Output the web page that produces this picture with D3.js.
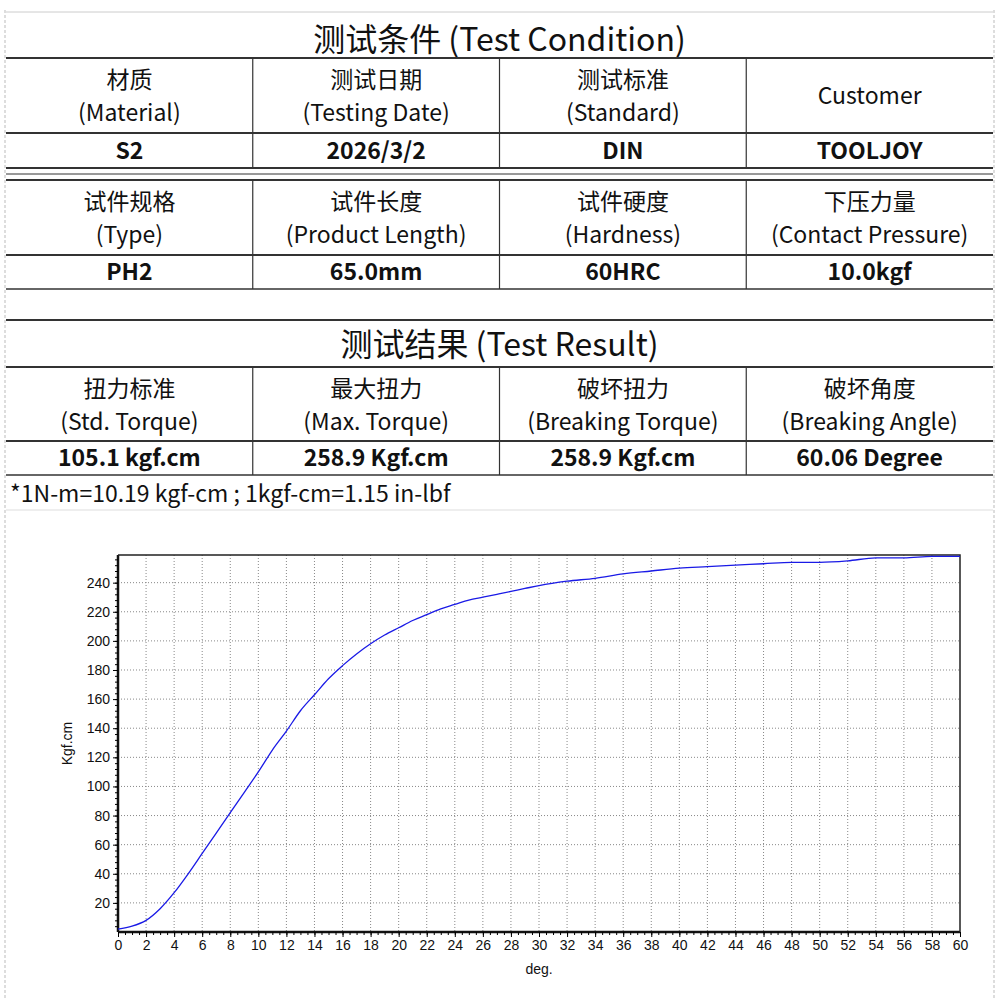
<!DOCTYPE html>
<html lang="zh">
<head>
<meta charset="UTF-8">
<style>
  body { margin: 0; background: #fff; font-family: "Noto Sans CJK SC", "Open Sans", sans-serif; }
  svg text { fill: #111; }
</style>
<script src="https://d3js.org/d3.v7.min.js"></script>
</head>
<body>
<svg id="page" width="1000" height="1000"></svg>
<script>
const conditionHeaders = [["材质", "(Material)"], ["测试日期", "(Testing Date)"], ["测试标准", "(Standard)"], ["Customer"]];
const conditionValues = ["S2", "2026/3/2", "DIN", "TOOLJOY"];
const specHeaders = [["试件规格", "(Type)"], ["试件长度", "(Product Length)"], ["试件硬度", "(Hardness)"], ["下压力量", "(Contact Pressure)"]];
const specValues = ["PH2", "65.0mm", "60HRC", "10.0kgf"];
const resultHeaders = [["扭力标准", "(Std. Torque)"], ["最大扭力", "(Max. Torque)"], ["破坏扭力", "(Breaking Torque)"], ["破坏角度", "(Breaking Angle)"]];
const resultValues = ["105.1 kgf.cm", "258.9 Kgf.cm", "258.9 Kgf.cm", "60.06 Degree"];
const note = "*1N-m=10.19 kgf-cm ; 1kgf-cm=1.15 in-lbf";

const degrees = [0,1,2,3,4,5,6,7,8,9,10,11,12,13,14,15,16,17,18,19,20,21,22,23,24,25,26,27,28,29,30,32,34,36,38,40,42,44,46,48,50,52,54,56,58,60];
const torque = [2,4,8,16,27,40,54,68,82,96,110,125,138,152,163,174,183,191,198,204,209,214,218,222,225,228,230,232,234,236,238,241,243,246,248,250,251,252,253,254,254,255,257,257,258,258];

const svg = d3.select("#page");
const L = 6, R = 993;
const cols = d3.range(5).map(i => L + i * (R - L) / 4);

// outer dashed left/right borders
svg.append("line").attr("x1", 5).attr("x2", 5).attr("y1", 10).attr("y2", 1000).attr("stroke", "#bbb").attr("stroke-dasharray", "3,2");
svg.append("line").attr("x1", 994).attr("x2", 994).attr("y1", 10).attr("y2", 1000).attr("stroke", "#bbb").attr("stroke-dasharray", "3,2");
svg.append("line").attr("x1", L).attr("x2", R).attr("y1", 12).attr("y2", 12).attr("stroke", "#ccc");

function hline(y, w) {
  svg.append("line").attr("x1", L).attr("x2", R).attr("y1", y).attr("y2", y).attr("stroke", "#333").attr("stroke-width", w || 1.5);
}
function vlines(y0, y1) {
  cols.slice(1, 4).forEach(x => svg.append("line").attr("x1", x).attr("x2", x).attr("y1", y0).attr("y2", y1).attr("stroke", "#333").attr("stroke-width", 1.2));
}
function title(txt, y0, y1) {
  svg.append("text").attr("x", (L + R) / 2).attr("y", (y0 + y1) / 2 + 12).attr("text-anchor", "middle")
    .attr("font-size", 32).text(txt);
}
function headerRow(headers, y0, y1) {
  headers.forEach((h, i) => {
    const cx = (cols[i] + cols[i + 1]) / 2;
    if (h.length === 1) {
      svg.append("text").attr("x", cx).attr("y", (y0 + y1) / 2 + 8).attr("text-anchor", "middle").attr("font-size", 23).text(h[0]);
    } else {
      svg.append("text").attr("x", cx).attr("y", y0 + 30).attr("text-anchor", "middle").attr("font-size", 23).text(h[0]);
      svg.append("text").attr("x", cx).attr("y", y0 + 63).attr("text-anchor", "middle").attr("font-size", 23).text(h[1]);
    }
  });
  vlines(y0, y1);
}
function valueRow(vals, y0, y1) {
  vals.forEach((v, i) => {
    svg.append("text").attr("x", (cols[i] + cols[i + 1]) / 2).attr("y", (y0 + y1) / 2 + 8)
      .attr("text-anchor", "middle").attr("font-size", 23).attr("font-weight", "bold").text(v);
  });
  vlines(y0, y1);
}

title("测试条件  (Test Condition)", 20, 58);
hline(58, 2);
headerRow(conditionHeaders, 58, 133);
hline(133, 2);
valueRow(conditionValues, 133, 168);
hline(168, 2); hline(174, 1); hline(180, 2);
headerRow(specHeaders, 180, 255);
hline(255, 2);
valueRow(specValues, 255, 289);
hline(289, 1.5);
hline(320, 2);
title("测试结果  (Test Result)", 320, 367);
hline(367, 2);
headerRow(resultHeaders, 367, 441);
hline(441, 2);
valueRow(resultValues, 441, 475);
hline(475, 1.5);
svg.append("text").attr("x", 10).attr("y", 502).attr("font-size", 23).text(note);
svg.append("line").attr("x1", L).attr("x2", R).attr("y1", 510).attr("y2", 510).attr("stroke", "#ddd");

// chart
const x0 = 118, x1 = 960, yTop = 555, yBot = 932;
const x = d3.scaleLinear().domain([0, 60]).range([x0, x1]);
const y = d3.scaleLinear().domain([0, 259]).range([yBot, yTop]);
const g = svg.append("g").attr("font-family", "Arial, Liberation Sans, sans-serif");

g.selectAll(".vg").data(d3.range(2, 60, 2)).join("line")
  .attr("x1", d => x(d)).attr("x2", d => x(d)).attr("y1", yTop).attr("y2", yBot)
  .attr("stroke", "#888").attr("stroke-dasharray", "1,2");
g.selectAll(".hg").data(d3.range(20, 241, 20)).join("line")
  .attr("x1", x0).attr("x2", x1).attr("y1", d => y(d)).attr("y2", d => y(d))
  .attr("stroke", "#888").attr("stroke-dasharray", "1,2");

const xAxis = g.append("g").attr("transform", `translate(0,${yBot})`)
  .call(d3.axisBottom(x).tickValues(d3.range(0, 61, 2)).tickSize(5).tickFormat(d3.format("d")));
g.append("g").attr("transform", `translate(0,${yBot})`)
  .call(d3.axisBottom(x).tickValues(d3.range(0, 60.1, 0.5)).tickSize(3).tickFormat(""))
  .call(a => a.select(".domain").remove());
const yAxis = g.append("g").attr("transform", `translate(${x0},0)`)
  .call(d3.axisLeft(y).tickValues(d3.range(20, 241, 20)).tickSize(5));
g.append("g").attr("transform", `translate(${x0},0)`)
  .call(d3.axisLeft(y).tickValues(d3.range(4, 259, 4)).tickSize(3).tickFormat(""))
  .call(a => a.select(".domain").remove());
[xAxis, yAxis].forEach(a => {
  a.select(".domain").attr("stroke", "#111").attr("stroke-width", 2.5);
  a.selectAll("text").attr("font-size", 14).attr("fill", "#111");
});
yAxis.select(".domain").attr("d", `M0,${yTop}V${yBot}`);
xAxis.select(".domain").attr("d", `M${x0},0H${x1}`);
g.append("path").attr("d", `M${x0},${yTop}H${x1}V${yBot}`).attr("fill", "none").attr("stroke", "#222").attr("stroke-width", 1.5);

g.append("path").datum(degrees.map((d, i) => [d, torque[i]]))
  .attr("d", d3.line().x(d => x(d[0])).y(d => y(d[1])).curve(d3.curveMonotoneX))
  .attr("fill", "none").attr("stroke", "#1a1ae6").attr("stroke-width", 1.3);

g.append("text").attr("transform", `translate(72,${(yTop + yBot) / 2}) rotate(-90)`)
  .attr("text-anchor", "middle").attr("font-size", 14).text("Kgf.cm");
g.append("text").attr("x", (x0 + x1) / 2).attr("y", 974).attr("text-anchor", "middle").attr("font-size", 14).text("deg.");
</script>
</body>
</html>
